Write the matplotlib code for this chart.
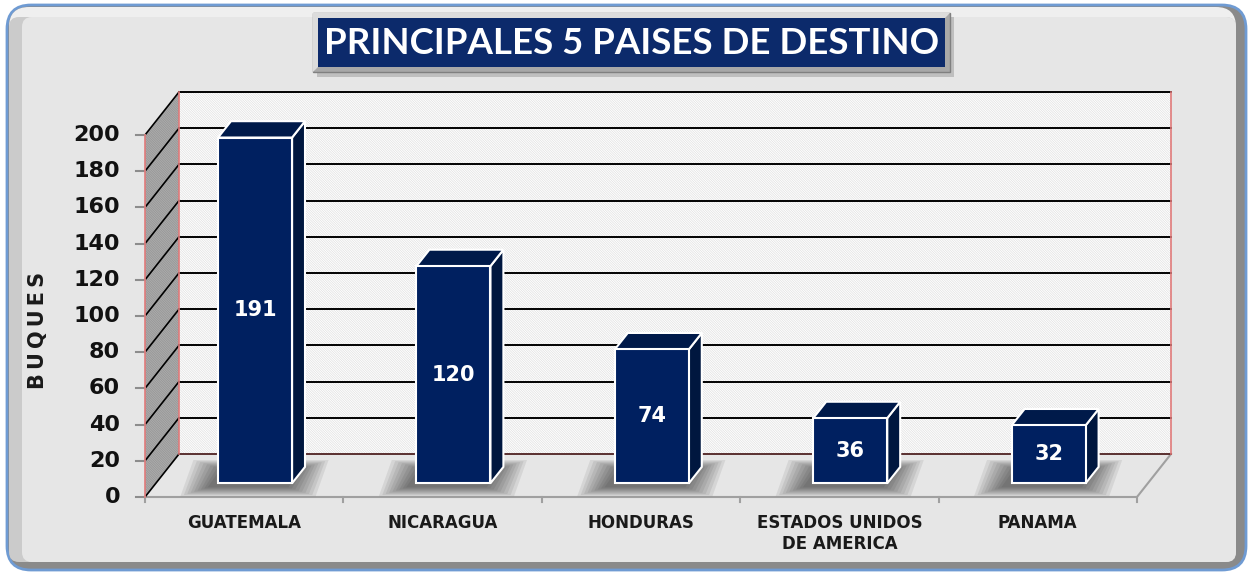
import matplotlib
matplotlib.use("Agg")
import matplotlib.pyplot as plt
from matplotlib.patches import Polygon, FancyBboxPatch, Rectangle

# ---------------- data ----------------
categories = ["GUATEMALA", "NICARAGUA", "HONDURAS", "ESTADOS UNIDOS\nDE AMERICA", "PANAMA"]
values = [191, 120, 74, 36, 32]
y_ticks = [0, 20, 40, 60, 80, 100, 120, 140, 160, 180, 200]
title_text = "PRINCIPALES 5 PAISES DE DESTINO"
y_label = "B\u2009U\u2009Q\u2009U\u2009E\u2009S"

# ---------------- layout ----------------
W, H = 1250, 572
plt.rcParams["hatch.linewidth"] = 0.5
fig = plt.figure(figsize=(W / 100, H / 100), dpi=100)
fig.patch.set_facecolor("white")

bg = fig.add_axes([0, 0, 1, 1])
bg.set_xlim(0, W)
bg.set_ylim(H, 0)
bg.axis("off")

# outer frame
bg.add_patch(FancyBboxPatch((7, 5), 1239, 565, boxstyle="round,pad=0,rounding_size=24",
                            fc="#8a8a8a", ec="#6f9bd3", lw=2))
bg.add_patch(FancyBboxPatch((9, 7), 1227, 555, boxstyle="round,pad=0,rounding_size=20",
                            fc="#efefef", ec="none"))
bg.add_patch(FancyBboxPatch((9, 17), 1227, 545, boxstyle="round,pad=0,rounding_size=10",
                            fc="#cbcbcb", ec="none"))
bg.add_patch(FancyBboxPatch((22, 17), 1214, 545, boxstyle="round,pad=0,rounding_size=10",
                            fc="#e6e6e6", ec="none"))

# title box
bg.add_patch(Rectangle((317, 17), 637, 60, fc="#9a9a9a", ec="none", alpha=0.5))
bg.add_patch(Rectangle((313, 13), 637, 59, fc="#a8a8a8", ec="#808080", lw=1))
bg.add_patch(Polygon([(313, 13), (950, 13), (945, 18), (318, 18), (318, 67), (313, 72)],
                     closed=True, fc="#dcdcdc", ec="none"))
bg.add_patch(Rectangle((318, 18), 627, 49, fc="#0c2a6b", ec="none"))
t = bg.text(631.5, 44, title_text, color="white", fontsize=25, fontweight="bold",
            family=["Lato", "DejaVu Sans"], ha="center", va="center")
fig.canvas.draw()
bb = t.get_window_extent()
t.set_fontsize(25 * 614 / bb.width)

# y label
bg.text(38, 330, y_label, rotation=90, fontsize=15, fontweight="bold",
        family="DejaVu Sans", color="#1a1a1a", ha="center", va="center")

# ---------------- chart axes (front plane) ----------------
X0, X1, Y0, Y1 = 145, 1137, 497, 135
ax = fig.add_axes([X0 / W, (H - Y0) / H, (X1 - X0) / W, (Y0 - Y1) / H])
ax.set_xlim(-0.5, len(categories) - 0.5)
ax.set_ylim(0, 200)
ax.axis("off")
ax.patch.set_alpha(0)

px_cat = (X1 - X0) / len(categories)
px_val = (Y0 - Y1) / 200.0
DX = 34 / px_cat
DY = 43 / px_val
xl, xr = -0.5, len(categories) - 0.5
vmax = y_ticks[-1]


def poly(pts, **kw):
    p = Polygon(pts, closed=True, clip_on=False, **kw)
    ax.add_patch(p)
    return p


# back wall
poly([(xl + DX, DY), (xr + DX, DY), (xr + DX, vmax + DY), (xl + DX, vmax + DY)],
     fc="white", ec="none", zorder=1)
poly([(xl + DX, DY), (xr + DX, DY), (xr + DX, vmax + DY), (xl + DX, vmax + DY)],
     fc="none", ec="#e0e0e0", lw=0, hatch="\\" * 14, zorder=1.1)
# side wall
poly([(xl, 0), (xl + DX, DY), (xl + DX, vmax + DY), (xl, vmax)],
     fc="#acacac", ec="none", zorder=1)
poly([(xl, 0), (xl + DX, DY), (xl + DX, vmax + DY), (xl, vmax)],
     fc="none", ec="#949494", lw=0, hatch="\\" * 14, zorder=1.1)
# floor
poly([(xl, 0), (xr, 0), (xr + DX, DY), (xl + DX, DY)], fc="#e6e6e6", ec="none", zorder=1)
ax.plot([xl, xr, xr + DX], [0, 0, DY], color="#a0a0a0", lw=1.5, clip_on=False, zorder=1.5)

# gridlines
for v in y_ticks:
    col = "#5a3030" if v == 0 else "black"
    ax.plot([xl + DX, xr + DX], [v + DY, v + DY], color=col, lw=1.4, clip_on=False, zorder=1.5)
    ax.plot([xl, xl + DX], [v, v + DY], color="black", lw=1.2, clip_on=False, zorder=1.5)
    ax.plot([xl - 0.045, xl], [v, v], color="#8c8c8c", lw=1.5, clip_on=False, zorder=1.5)
    ax.text(xl - 0.125, v, str(v), ha="right", va="center", fontsize=16,
            fontweight="bold", family="DejaVu Sans", color="#111111", clip_on=False)

# red wall edges
for xs, ys in [([xl + DX, xl + DX], [DY, vmax + DY]),
               ([xr + DX, xr + DX], [DY, vmax + DY]),
               ([xl, xl], [0, vmax])]:
    ax.plot(xs, ys, color="#e07a7a", lw=1.2, clip_on=False, zorder=1.6)

# x ticks
for k in range(len(categories) + 1):
    ax.plot([xl + k, xl + k], [0, -3], color="#a0a0a0", lw=1.5, clip_on=False, zorder=1.5)

# bars
F0, F1 = 0.32, 0.70
BW = 0.373
bdx, bdy = (F1 - F0) * DX, (F1 - F0) * DY
ex_px = 3.4
for i, (cat, v) in enumerate(zip(categories, values)):
    x_a = i - BW / 2 + F0 * DX
    x_b = i + BW / 2 + F0 * DX
    y_a = F0 * DY
    # soft shadow on the floor
    for k in range(9, 0, -1):
        ex = k * ex_px / px_cat
        ey = k * 1.1 / px_val
        sx, sy = -7 / px_cat, -3 / px_val
        poly([(x_a - ex + sx, y_a - ey + sy), (x_b + ex + sx, y_a - ey + sy),
              (x_b + bdx + ex + sx, y_a + bdy + ey + sy), (x_a + bdx - ex + sx, y_a + bdy + ey + sy)],
             fc="black", ec="none", alpha=0.07, zorder=2)
    # faces
    edge = dict(ec="white", lw=1.5, joinstyle="miter", zorder=3)
    poly([(x_b, y_a), (x_b + bdx, y_a + bdy), (x_b + bdx, y_a + v + bdy), (x_b, y_a + v)],
         fc="#00173f", **edge)
    poly([(x_a, y_a + v), (x_b, y_a + v), (x_b + bdx, y_a + v + bdy), (x_a + bdx, y_a + v + bdy)],
         fc="#001a4a", **edge)
    poly([(x_a, y_a), (x_b, y_a), (x_b, y_a + v), (x_a, y_a + v)], fc="#002060", **edge)
    ax.text((x_a + x_b) / 2, y_a + v / 2, str(v), color="white", fontsize=15,
            fontweight="bold", family="DejaVu Sans", ha="center", va="center", zorder=4)
    ax.text(i, -9.5, cat, ha="center", va="top", fontsize=12, fontweight="bold",
            family="DejaVu Sans", color="#1a1a1a", linespacing=1.2, clip_on=False)

fig.savefig("out.png", dpi=100, facecolor=fig.get_facecolor())
